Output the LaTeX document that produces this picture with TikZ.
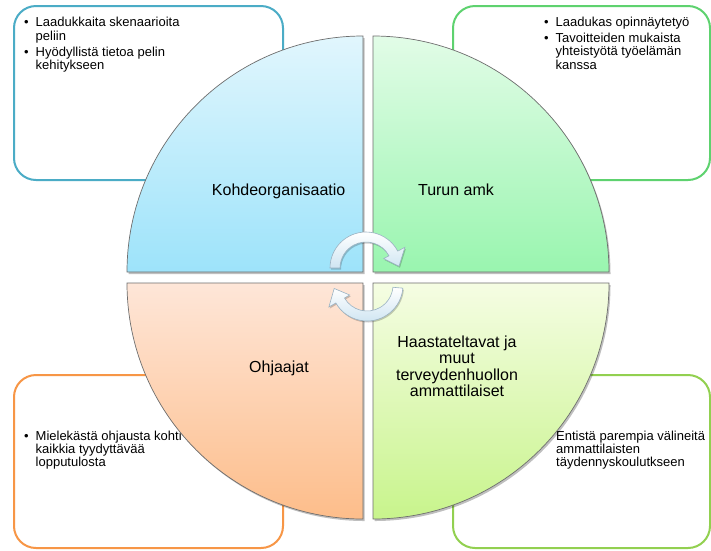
\documentclass[tikz,border=0pt]{standalone}
\usepackage{fontspec}
\setmainfont{Liberation Sans}
\usetikzlibrary{calc,shadows}
\definecolor{bluebox}{HTML}{4BACC6}
\definecolor{greenbox}{HTML}{5ED26F}
\definecolor{orangebox}{HTML}{F79646}
\definecolor{limebox}{HTML}{92D050}
\definecolor{bqtop}{HTML}{E1F6FD}
\definecolor{bqbot}{HTML}{9DE3FA}
\definecolor{gqtop}{HTML}{E2FCE7}
\definecolor{gqbot}{HTML}{99F5AF}
\definecolor{oqtop}{HTML}{FEE6D8}
\definecolor{oqbot}{HTML}{FDBD8A}
\definecolor{lqtop}{HTML}{F5FDE3}
\definecolor{lqbot}{HTML}{C8F48C}
\definecolor{quadline}{HTML}{6E6E6E}
\definecolor{arrline}{HTML}{9AB2C2}
\definecolor{arrbot}{HTML}{CFE5F2}
\newcommand{\bul}{\makebox[11.5pt][l]{•}}
\newcommand{\ind}{\hspace*{11.5pt}}
\newcommand{\ltab}[1]{\begin{tabular}[t]{@{}l@{}}#1\end{tabular}}
\newcommand{\ctab}[1]{\begin{tabular}[t]{@{}c@{}}#1\end{tabular}}
\begin{document}
\begin{tikzpicture}[x=1pt,y=-1pt,
  outbox/.style={line width=2pt, rounded corners=22pt},
  boxtext/.style={font=\fontsize{13}{13.3}\selectfont, inner sep=0pt, text=black},
  qlabel/.style={font=\fontsize{16}{16.3}\selectfont, inner sep=0pt, text=black},
  quad/.style={draw=quadline, line width=0.7pt,
    drop shadow={shadow xshift=1.5pt, shadow yshift=-2pt, opacity=0.25, fill=black}},
  cyc/.style={draw=arrline, line width=0.6pt, top color=white, bottom color=arrbot,
    drop shadow={shadow xshift=1pt, shadow yshift=-1.5pt, opacity=0.2, fill=black}}
]
\useasboundingbox (0,0) rectangle (711,550);
\fill[white] (0,0) rectangle (711,550);

% outer boxes
\draw[outbox, draw=bluebox] (14,6) rectangle (283,180);
\draw[outbox, draw=greenbox] (453,6) rectangle (710,180);
\draw[outbox, draw=orangebox] (14,375) rectangle (283,548);
\draw[outbox, draw=limebox] (453,375) rectangle (710,548);

% box texts
\node[boxtext, anchor=base west] (t1) at (24,26.7) {\ltab{\bul Laadukkaita skenaarioita\\\ind peliin\\[2.7pt]\bul Hyödyllistä tietoa pelin\\\ind kehitykseen}};
\node[boxtext, anchor=base west] (t2) at (544,26.7) {\ltab{\bul Laadukas opinnäytetyö\\[2.3pt]\bul Tavoitteiden mukaista\\\ind yhteistyötä työelämän\\\ind kanssa}};
\node[boxtext, anchor=base west] (t3) at (24,440) {\ltab{\bul Mielekästä ohjausta kohti\\\ind kaikkia tyydyttävää\\\ind lopputulosta}};
\node[boxtext, anchor=base west] (t4) at (556,440) {\ltab{Entistä parempia välineitä\\ammattilaisten\\täydennyskoulutkseen}};

% quadrants
\coordinate (cb) at (363,272);
\coordinate (cg) at (373,272);
\coordinate (co) at (363,283);
\coordinate (cl) at (373,283);
\path[quad, top color=bqtop, bottom color=bqbot] (cb) -- ($(cb)+(180:236)$) arc[start angle=180, end angle=270, radius=236] -- cycle;
\path[quad, top color=gqtop, bottom color=gqbot] (cg) -- ($(cg)+(270:236)$) arc[start angle=270, end angle=360, radius=236] -- cycle;
\path[quad, top color=oqtop, bottom color=oqbot] (co) -- ($(co)+(90:236)$) arc[start angle=90, end angle=180, radius=236] -- cycle;
\path[quad, top color=lqtop, bottom color=lqbot] (cl) -- ($(cl)+(0:236)$) arc[start angle=0, end angle=90, radius=236] -- cycle;

% labels
\node[qlabel, anchor=base] (q1) at (278.7,195) {Kohdeorganisaatio};
\node[qlabel, anchor=base] (q2) at (456,195) {Turun amk};
\node[qlabel, anchor=base] (q3) at (279,372.3) {Ohjaajat};
\node[qlabel, anchor=base] (q4) at (457,347.3) {\ctab{Haastateltavat ja\\muut\\terveydenhuollon\\ammattilaiset}};

% cycle arrows
\coordinate (c1) at (366,268);
\coordinate (c2) at (367,285);
\path[cyc] ($(c1)+(180:36)$) arc[start angle=180, end angle=332, radius=36]
  -- ($(c1)+(332:44)$) -- ($(c1)+(357:33)$) -- ($(c1)+(332:20)$)
  -- ($(c1)+(332:26)$) arc[start angle=332, end angle=180, radius=26] -- cycle;
\path[cyc] ($(c2)+(5:36)$) arc[start angle=5, end angle=150, radius=36]
  -- ($(c2)+(150:44)$) -- ($(c2)+(174:33)$) -- ($(c2)+(150:20)$)
  -- ($(c2)+(150:26)$) arc[start angle=150, end angle=5, radius=26] -- cycle;
\end{tikzpicture}
\end{document}
